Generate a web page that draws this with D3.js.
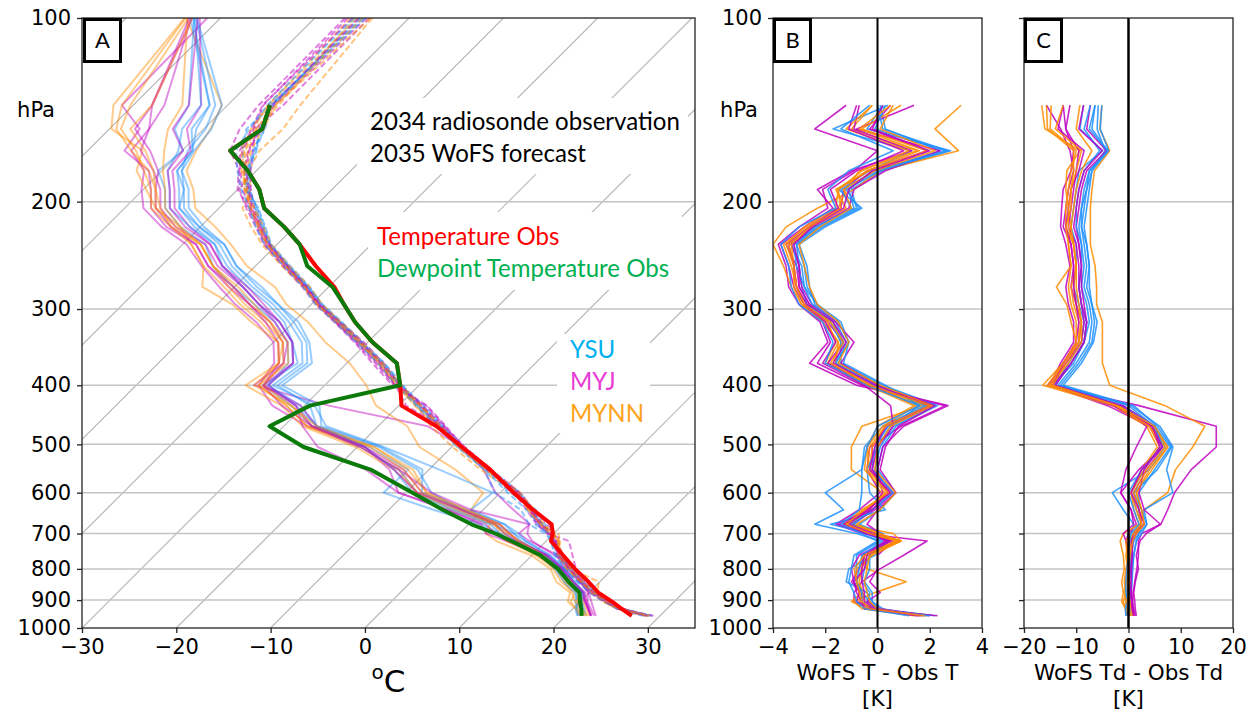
<!DOCTYPE html>
<html>
<head>
<meta charset="utf-8">
<script src="https://cdn.jsdelivr.net/npm/d3@7"></script>
<style>
  body { margin: 0; background: #fff; }
  svg { display: block; }
  .axis text { font-family: "DejaVu Sans", sans-serif; font-size: 21px; fill: #000; }
  .axis line { stroke: #222; stroke-width: 1.3; }
  .axis path { display: none; }
</style>
</head>
<body>
<svg id="chart" width="1257" height="717"></svg>
<script>
// ---- pressure levels (hPa) of the sounding profiles ----
const levels = [139, 152, 165, 178, 191, 205, 220, 235, 255, 276, 295, 315, 340, 368, 400,
                432, 467, 505, 550, 600, 640, 676, 700, 720, 760, 800, 840, 875, 905, 930, 955];

// ---- radiosonde observation (°C) ----
const obsT  = [-65.5, -63.8, -64.9, -60.9, -57.7, -55.2, -51.1, -47.6, -43.6, -39.4, -36.5, -33.5, -29.5, -24.7, -22.0,
               -19.7, -13.8, -8.9, -3.5, 1.4, 5.3, 8.8, 9.9, 10.5, 13.3, 16.0, 18.8, 21.0, 23.4, 25.2, 27.0];
const obsTd = [-65.5, -63.8, -64.9, -60.9, -57.7, -55.2, -51.1, -47.6, -44.5, -39.6, -36.5, -33.5, -29.5, -24.7, -22.0,
               -29.4, -31.5, -25.7, -16.2, -9.3, -4.3, 0.3, 3.8, 6.3, 10.9, 14.2, 16.7, 19.0, 20.0, 20.9, 21.7];

// ---- ensemble members: PBL scheme of each member ----
const schemes = ["YSU", "MYJ", "MYNN"];
const memberScheme = [0, 1, 2, 0, 1, 2, 0, 1, 2, 0, 1, 2, 0, 1, 2, 0, 1, 2];

// ---- forecast minus observed temperature (K), one row per member ----
const dT = [
  [0.2, -0.4, 2.8, 0.2, -1.0, -0.8, -2.2, -3.3, -2.9, -2.8, -2.3, -1.4, -1.1, -1.6, 0.1, 2.2, 0.6, 0.1, -0.1, 0.5, -0.2, -0.9, 0.0, 0.4, -0.3, -0.5, -0.6, -0.3, -0.4, 0.0, 2.2],
  [-1.2, -2.4, 0.0, -0.9, -2.1, -1.9, -3.0, -3.8, -3.5, -3.4, -3.0, -2.2, -1.9, -2.6, -0.8, 2.6, 0.9, -0.3, -0.4, 0.1, -0.7, -1.6, -0.6, 1.9, 1.0, 0.1, -0.6, -0.9, -0.9, -0.4, 2.3],
  [3.2, 2.2, 3.1, 0.1, -0.9, -2.3, -3.5, -4.0, -3.6, -3.3, -2.9, -2.0, -1.5, -1.9, -0.5, 1.7, -0.6, -1.0, -1.0, 0.2, -0.3, -1.2, -0.4, 0.8, -0.6, -0.4, 1.1, -0.1, -0.9, -0.6, 1.4],
  [0.4, -1.7, 1.3, -0.3, -1.5, -0.6, -2.0, -3.0, -2.7, -2.6, -2.4, -1.6, -1.2, -1.5, 0.0, 1.8, 0.2, -0.5, -0.6, -2.0, -1.3, -2.4, -0.8, 0.1, -0.8, -0.8, -0.9, -0.6, -0.3, -0.1, 1.9],
  [0.5, -0.3, 1.9, -0.4, -1.3, -1.4, -2.6, -3.5, -3.1, -3.0, -2.6, -1.9, -1.3, -1.9, -0.3, 2.1, 0.4, -0.2, -0.2, 0.6, -0.1, -1.0, -0.1, 0.5, -0.5, -0.7, -1.0, -0.6, -0.6, -0.3, 1.6],
  [-0.2, -1.0, 1.5, -0.7, -1.2, -1.5, -2.7, -3.6, -3.3, -3.1, -2.7, -1.7, -1.4, -1.7, -0.2, 1.5, 0.2, -0.4, -0.3, 0.4, -0.5, -1.2, 0.6, 0.9, -0.4, -0.6, -0.8, -0.5, -0.7, -0.2, 1.8],
  [0.1, 0.3, 2.4, 0.0, -1.4, -1.0, -2.3, -3.1, -3.0, -2.9, -2.7, -1.8, -1.4, -1.4, 0.2, 2.3, 0.7, 0.2, 0.0, 0.7, 0.1, -0.7, 0.2, 0.3, -0.3, -0.3, -0.5, -0.2, -0.2, 0.2, 1.5],
  [1.4, -0.8, 2.4, 0.3, -0.9, -1.1, -2.4, -3.3, -3.0, -2.9, -2.5, -1.6, -0.9, -1.4, 0.0, 2.2, 0.8, 0.3, 0.1, 0.7, 0.0, -0.4, 0.1, 0.6, 0.0, 0.0, -0.3, 0.1, -0.4, 0.1, 2.0],
  [0.9, -0.6, 1.9, -0.3, -1.6, -1.2, -2.5, -3.3, -3.2, -3.1, -2.8, -1.9, -1.6, -2.0, -0.4, 1.9, 0.3, -0.2, -0.3, 0.5, -0.6, -1.3, -0.3, 0.9, -0.5, -0.6, -0.7, -0.6, -0.5, -0.2, 1.7],
  [0.3, -0.1, 2.6, 0.1, -1.2, -0.7, -2.1, -3.1, -2.8, -2.7, -2.3, -1.5, -1.1, -1.3, 0.3, 1.6, 0.5, 0.0, -0.4, -0.3, 0.3, -1.8, -0.3, 0.4, -0.1, -1.1, -1.2, -0.4, -0.2, 0.0, 1.8],
  [-0.7, -0.9, 1.3, -1.0, -2.3, -1.7, -2.8, -3.7, -3.4, -3.2, -2.8, -2.1, -1.8, -2.3, -0.6, 2.7, 1.0, 0.2, 0.0, 0.2, -0.3, -1.5, -0.5, 0.4, -0.7, -1.0, -0.9, -0.8, -0.6, -0.5, 1.6],
  [-0.2, -1.2, 1.2, -0.6, -1.5, -1.6, -2.8, -3.5, -3.2, -3.2, -2.9, -2.1, -1.5, -1.6, -0.4, 1.4, 0.0, -0.4, -0.5, 0.3, -0.4, -1.0, 0.0, 0.9, -0.2, -0.8, -0.8, -0.6, -1.0, -0.4, 1.9],
  [0.0, 0.2, 2.7, -0.2, -1.1, -0.9, -2.4, -3.2, -3.1, -2.8, -2.5, -1.7, -1.3, -1.6, -0.1, 1.9, 0.4, -0.1, -0.2, 0.6, -0.2, -1.0, -0.4, 0.2, -0.6, -0.7, -0.8, -0.6, -0.6, -0.3, 2.0],
  [-0.8, -1.1, 1.0, -0.8, -1.8, -1.5, -2.6, -3.4, -3.2, -3.1, -2.7, -2.0, -1.6, -2.1, -0.5, 0.5, 0.6, 0.0, -0.2, 0.4, -0.2, -1.3, -0.4, 0.5, -0.4, -0.5, -0.9, -0.7, -0.8, -0.2, 1.5],
  [0.6, 0.1, 2.2, -0.1, -1.3, -1.0, -2.2, -3.0, -2.8, -2.6, -2.3, -1.5, -1.1, -1.5, 0.1, 2.1, 0.5, 0.0, -0.1, 0.7, 0.1, -0.8, 0.1, 0.8, -0.3, -0.4, -0.5, -0.4, -0.3, 0.0, 1.6],
  [-0.3, -1.4, 0.6, -1.1, -1.9, -1.6, -3.0, -3.7, -3.4, -3.3, -3.0, -2.1, -1.7, -2.0, -0.4, 1.6, 0.0, -0.4, -0.6, -0.6, -0.7, -1.4, -0.6, 0.0, -0.9, -1.0, -1.1, -0.9, -0.8, -0.5, 1.2],
  [0.2, -0.2, 2.0, -0.2, -1.1, -1.3, -2.5, -3.2, -3.0, -3.0, -2.6, -1.7, -1.2, -1.7, -0.1, 2.0, 0.3, -0.1, -0.3, 0.5, -0.4, -1.1, -0.2, 0.3, -0.5, -0.6, -0.6, -0.5, -0.5, -0.1, 1.7],
  [0.5, -0.7, 1.6, -0.4, -1.5, -1.4, -2.6, -3.4, -3.2, -3.1, -2.8, -1.8, -1.3, -1.8, -0.3, 2.0, 0.3, -0.3, -0.4, 0.4, -0.5, -1.2, -0.3, 0.7, -0.5, -0.9, -0.8, -0.7, -0.6, -0.3, 1.8]
];

// ---- forecast minus observed dewpoint (K), one row per member ----
const dTd = [
  [-6.4, -7.0, -4.0, -7.5, -8.5, -9.0, -9.5, -9.0, -8.5, -9.0, -8.0, -7.5, -8.5, -10.5, -14.5, -2.0, 4.5, 6.0, 3.0, 0.5, 1.5, 2.5, 1.0, 0.5, 0.6, 0.4, 0.2, 0.3, 0.0, -0.5, -0.4],
  [-15.7, -13.0, -11.2, -10.5, -11.5, -12.0, -12.5, -11.0, -10.5, -11.0, -10.0, -9.0, -9.5, -12.0, -15.5, 2.0, 16.8, 16.8, 12.0, 8.8, 7.5, 6.2, 2.5, 1.9, 1.9, 1.6, 1.2, 0.9, 0.8, 1.0, 1.3],
  [-5.1, -5.5, -3.6, -6.5, -7.0, -7.3, -7.3, -7.3, -6.4, -6.1, -6.1, -5.0, -5.0, -5.0, -3.6, 7.0, 14.6, 12.3, 9.0, 7.5, 3.0, 2.2, 1.5, 0.8, 0.5, 0.2, -0.3, -0.2, -0.3, 0.2, 0.6],
  [-8.6, -9.3, -5.0, -9.5, -10.0, -10.5, -11.0, -10.0, -10.0, -10.5, -9.5, -8.5, -9.0, -11.5, -14.0, -1.0, 5.0, 7.0, 4.0, -3.1, -1.0, 1.0, 0.5, 0.0, 0.2, 0.5, 0.0, -0.3, -0.5, -0.4, -0.3],
  [-12.5, -12.0, -10.5, -11.0, -12.5, -12.8, -13.0, -12.0, -11.2, -12.0, -11.5, -10.5, -10.5, -13.0, -15.0, -4.0, 4.0, 6.5, 2.0, -1.5, 0.5, 1.5, 0.0, -0.5, 0.0, 0.3, 0.5, 0.4, 0.5, 0.7, 1.0],
  [-16.6, -16.0, -9.3, -11.8, -12.0, -11.5, -11.0, -11.5, -11.0, -13.8, -11.8, -11.0, -10.0, -12.5, -16.4, -3.0, 3.5, 5.5, 2.5, 0.5, 1.0, 2.0, -1.0, -1.6, -1.0, -0.8, -1.3, -1.0, -1.3, -0.6, -0.2],
  [-5.8, -6.0, -4.5, -7.0, -8.0, -8.5, -9.0, -8.5, -8.0, -8.5, -7.5, -7.0, -7.5, -10.0, -13.5, 0.5, 6.0, 8.5, 7.3, 8.5, 3.0, 3.5, 2.0, 1.5, 1.0, 0.8, 0.7, 0.5, 0.3, 0.1, 0.0],
  [-7.3, -8.0, -4.2, -8.0, -9.0, -9.5, -10.0, -9.5, -9.0, -9.0, -8.5, -8.0, -8.5, -11.0, -14.5, -1.5, 3.5, 1.5, -0.5, -1.5, 0.5, 1.0, -1.0, -0.5, 0.5, 0.3, 0.0, 0.2, 0.5, 0.8, 0.9],
  [-14.8, -15.0, -10.0, -11.0, -11.5, -12.0, -12.0, -10.5, -10.0, -11.0, -10.5, -9.5, -9.5, -12.5, -15.5, -2.0, 4.5, 7.5, 4.5, 1.5, 2.5, 3.0, 1.5, 0.5, 0.0, -0.5, -0.8, -0.5, -1.0, -0.5, 0.0],
  [-6.4, -7.5, -4.0, -7.5, -8.0, -9.0, -9.0, -8.0, -7.5, -8.0, -7.0, -6.5, -7.0, -9.5, -13.0, 0.0, 5.0, 8.0, 5.0, 2.0, 2.0, 2.5, 2.0, 1.0, 0.5, 0.5, 0.3, 0.0, 0.2, 0.3, 0.4],
  [-11.2, -12.0, -9.5, -10.0, -10.5, -11.0, -11.5, -10.0, -9.5, -9.5, -9.0, -8.5, -9.0, -12.0, -14.5, -1.0, 5.0, 6.5, 3.5, 1.0, 2.0, 2.5, 1.0, 0.5, 0.8, 0.5, 0.5, 0.6, 0.7, 0.8, 1.0],
  [-9.3, -10.0, -7.0, -9.0, -10.0, -10.5, -11.0, -10.5, -10.0, -10.5, -10.0, -9.0, -9.0, -11.5, -15.0, -2.5, 4.0, 6.0, 3.0, 0.5, 1.5, 2.5, 1.0, 0.0, -0.5, -0.2, -0.5, -0.8, -0.5, -0.2, 0.3],
  [-5.1, -5.4, -3.8, -7.0, -7.5, -8.0, -8.5, -8.0, -7.5, -7.5, -7.0, -6.0, -6.7, -9.0, -12.5, 1.0, 5.5, 8.3, 5.5, 1.0, 2.5, 3.5, 2.5, 1.5, 1.0, 0.7, 0.5, 0.3, 0.2, 0.0, -0.2],
  [-12.5, -13.5, -8.5, -9.5, -11.0, -11.5, -12.0, -11.0, -10.5, -10.5, -10.0, -9.5, -10.0, -12.5, -14.5, -3.0, 4.5, 6.0, 3.0, 2.0, 3.0, 6.1, 3.4, 2.2, 1.5, 1.9, 1.3, 1.0, 1.2, 1.3, 1.5],
  [-15.7, -15.5, -10.5, -10.5, -11.0, -11.0, -12.0, -11.5, -11.0, -11.5, -11.0, -10.0, -10.0, -12.5, -15.0, -2.5, 4.0, 7.0, 3.5, 1.0, 2.0, 2.5, 0.5, -0.5, -0.3, 0.0, 0.3, 0.0, 0.3, 0.5, 0.8],
  [-7.3, -8.5, -5.5, -8.5, -9.5, -10.0, -10.0, -9.0, -9.0, -9.5, -9.0, -8.0, -8.5, -11.0, -14.0, -1.5, 5.0, 6.5, 2.5, 0.0, 1.0, 2.0, 0.5, 0.2, 0.0, -0.3, -0.5, -0.5, -0.2, -0.6, -0.5],
  [-8.6, -9.5, -5.0, -8.5, -9.5, -10.0, -10.5, -9.5, -9.0, -9.5, -9.0, -8.0, -8.5, -11.0, -14.0, -1.5, 4.5, 6.5, 2.5, 0.5, 2.0, 3.0, 1.5, 0.8, 0.7, 0.6, 0.5, 0.4, 0.6, 0.7, 1.0],
  [-12.5, -14.0, -9.0, -10.0, -11.0, -11.5, -11.5, -10.5, -10.0, -10.0, -9.5, -9.0, -9.5, -12.0, -14.5, -2.0, 5.0, 7.5, 4.0, 1.5, 2.5, 3.0, 1.5, 0.8, 0.3, 0.0, -0.2, 0.0, -0.3, 0.0, 0.5]
];

// ---- member values at the 100 hPa model top (°C) ----
const topLevel = 100;
const memberT100  = [-65.2, -66.8, -63.9, -65.6, -64.5, -66.2, -65.0, -64.2, -65.8, -64.8, -66.5, -65.4, -64.6, -66.0, -64.1, -65.9, -65.3, -64.9];
const memberTd100 = [-83.2, -81.4, -83.6, -82.8, -83.0, -83.8, -82.6, -82.2, -83.4, -82.9, -83.1, -83.5, -82.5, -83.3, -83.7, -82.7, -82.4, -83.0];

// ---- axis ticks ----
const pressureTicks = [100, 200, 300, 400, 500, 600, 700, 800, 900, 1000];
const gridPressures = [200, 300, 400, 500, 600, 700, 800, 900];
const tempTicks = [-30, -20, -10, 0, 10, 20, 30];
const dTTicks = [-4, -2, 0, 2, 4];
const dTdTicks = [-20, -10, 0, 10, 20];

// ---- styling ----
const lineColor = { YSU: "#1e90ff", MYJ: "#bf00bf", MYNN: "#ff8c00" };
const labelColor = { YSU: "#00b0f0", MYJ: "#e83cd4", MYNN: "#ffa31a" };
const annFont = "Lato, 'Open Sans', sans-serif";

const svg = d3.select("#chart");
const yTop = 18, yBot = 628;
const y = d3.scaleLog().domain([100, 1000]).range([yTop, yBot]);
const xA = d3.scaleLinear().domain([-30, 35]).range([82, 695]);
const xB = d3.scaleLinear().domain([-4, 4]).range([773, 982]);
const xC = d3.scaleLinear().domain([-20, 20]).range([1024, 1233]);

// skewed temperature axis: isotherms rise 45° to the right
const skewX = (t, p) => xA(t) + (yBot - y(p));

const defs = svg.append("defs");
function clip(id, x0, x1) {
  defs.append("clipPath").attr("id", id).append("rect")
    .attr("x", x0).attr("y", yTop).attr("width", x1 - x0).attr("height", yBot - yTop);
  return `url(#${id})`;
}
const clipA = clip("clipA", 82, 695);
const clipB = clip("clipB", 773, 982);
const clipC = clip("clipC", 1024, 1233);

function fitText(sel, targetWidth) {
  const size = parseFloat(sel.attr("font-size"));
  const w = sel.node().getComputedTextLength();
  sel.attr("font-size", (size * targetWidth / w).toFixed(2));
}

// ================= panel A: skew-T =================
const gA = svg.append("g");
const gAin = gA.append("g").attr("clip-path", clipA);

// isotherms
d3.range(-120, 40, 10).forEach(t => {
  gAin.append("line")
    .attr("x1", xA(t)).attr("y1", yBot)
    .attr("x2", xA(t) + (yBot - yTop)).attr("y2", yTop)
    .attr("stroke", "#b8b8b8").attr("stroke-width", 1.2);
});
// pressure grid
gridPressures.forEach(p => {
  gAin.append("line").attr("x1", 82).attr("x2", 695).attr("y1", y(p)).attr("y2", y(p))
    .attr("stroke", "#c4c4c4").attr("stroke-width", 1.5);
});

// white boxes under the annotations
[[357, 98, 331, 76], [368, 212, 314, 78], [557, 334, 93, 99]].forEach(([bx, by, bw, bh]) => {
  gAin.append("rect").attr("x", bx).attr("y", by).attr("width", bw).attr("height", bh).attr("fill", "#fff");
});

const lineA = d3.line().x(d => skewX(d.t, d.p)).y(d => y(d.p));

// member dewpoints (solid) and temperatures (dashed)
const memberIdx = d3.range(dT.length);
memberIdx.forEach(m => {
  const pts = [{ p: topLevel, t: memberTd100[m] }].concat(levels.map((p, i) => ({ p, t: obsTd[i] + dTd[m][i] })));
  gAin.append("path").attr("d", lineA(pts)).attr("fill", "none")
    .attr("stroke", lineColor[schemes[memberScheme[m]]]).attr("stroke-opacity", 0.45)
    .attr("stroke-width", 2).attr("stroke-linejoin", "round");
});
memberIdx.forEach(m => {
  const pts = [{ p: topLevel, t: memberT100[m] }].concat(levels.map((p, i) => ({ p, t: obsT[i] + dT[m][i] })));
  gAin.append("path").attr("d", lineA(pts)).attr("fill", "none")
    .attr("stroke", lineColor[schemes[memberScheme[m]]]).attr("stroke-opacity", 0.5)
    .attr("stroke-width", 2).attr("stroke-dasharray", "6,3");
});

// observed sounding
gAin.append("path").attr("d", lineA(levels.map((p, i) => ({ p, t: obsT[i] }))))
  .attr("fill", "none").attr("stroke", "#ff0000").attr("stroke-width", 4).attr("stroke-linejoin", "round");
gAin.append("path").attr("d", lineA(levels.map((p, i) => ({ p, t: obsTd[i] }))))
  .attr("fill", "none").attr("stroke", "#0a7a0a").attr("stroke-width", 4).attr("stroke-linejoin", "round");

// annotations
const ann = [
  ["2034 radiosonde observation", 370, 130, "#000"],
  ["2035 WoFS forecast", 370, 162, "#000"],
  ["Temperature Obs", 377, 245, "#ff0000"],
  ["Dewpoint Temperature Obs", 377, 277, "#00b050"]
];
const annSize = 24;
ann.forEach(([txt, tx, ty, col]) => {
  gA.append("text").attr("x", tx).attr("y", ty).attr("fill", col)
    .attr("font-family", annFont).attr("font-size", annSize).text(txt);
});
const first = gA.selectAll("text").filter((d, i) => i === 0);
fitText(first, 310);
const fitted = first.attr("font-size");
gA.selectAll("text").attr("font-size", fitted);

schemes.forEach((s, i) => {
  gA.append("text").attr("x", 570).attr("y", 358 + i * 32).attr("fill", labelColor[s])
    .attr("font-family", annFont).attr("font-size", fitted).text(s);
});

// frame
gA.append("rect").attr("x", 82).attr("y", yTop).attr("width", 695 - 82).attr("height", yBot - yTop)
  .attr("fill", "none").attr("stroke", "#222").attr("stroke-width", 1.3);

gA.append("g").attr("class", "axis").attr("transform", "translate(82,0)")
  .call(d3.axisLeft(y).tickValues(pressureTicks).tickFormat(d3.format("d")).tickSize(5).tickPadding(6));
gA.append("g").attr("class", "axis").attr("transform", `translate(0,${yBot})`)
  .call(d3.axisBottom(xA).tickValues(tempTicks).tickSize(5).tickPadding(6));

gA.append("text").attr("x", 55).attr("y", 117).attr("text-anchor", "end")
  .attr("font-family", "DejaVu Sans, sans-serif").attr("font-size", 21).text("hPa");

const degLabel = gA.append("text").attr("x", 388.5).attr("y", 692).attr("text-anchor", "middle")
  .attr("font-family", "DejaVu Sans, sans-serif").attr("font-size", 31);
degLabel.append("tspan").attr("font-size", 20).attr("dy", -13).text("o");
degLabel.append("tspan").attr("dy", 13).text("C");

// ================= panels B and C: profile differences =================
function diffPanel(x, clipUrl, rows, ticks, showLabels, zeroWidth, title) {
  const g = svg.append("g");
  const inner = g.append("g").attr("clip-path", clipUrl);
  const [x0, x1] = x.range();
  gridPressures.forEach(p => {
    inner.append("line").attr("x1", x0).attr("x2", x1).attr("y1", y(p)).attr("y2", y(p))
      .attr("stroke", "#c4c4c4").attr("stroke-width", 1.5);
  });
  const line = d3.line().x(d => x(d.v)).y(d => y(d.p));
  rows.forEach((row, m) => {
    inner.append("path").attr("d", line(levels.map((p, i) => ({ p, v: row[i] }))))
      .attr("fill", "none").attr("stroke", lineColor[schemes[memberScheme[m]]])
      .attr("stroke-opacity", 0.85).attr("stroke-width", 1.6).attr("stroke-linejoin", "round");
  });
  inner.append("line").attr("x1", x(0)).attr("x2", x(0)).attr("y1", yTop).attr("y2", yBot)
    .attr("stroke", "#000").attr("stroke-width", zeroWidth);
  g.append("rect").attr("x", x0).attr("y", yTop).attr("width", x1 - x0).attr("height", yBot - yTop)
    .attr("fill", "none").attr("stroke", "#222").attr("stroke-width", 1.3);
  g.append("g").attr("class", "axis").attr("transform", `translate(${x0},0)`)
    .call(d3.axisLeft(y).tickValues(pressureTicks)
      .tickFormat(showLabels ? d3.format("d") : () => "").tickSize(5).tickPadding(6));
  g.append("g").attr("class", "axis").attr("transform", `translate(0,${yBot})`)
    .call(d3.axisBottom(x).tickValues(ticks).tickSize(5).tickPadding(6));
  const cx = (x0 + x1) / 2;
  g.append("text").attr("x", cx).attr("y", 680).attr("text-anchor", "middle")
    .attr("font-family", "DejaVu Sans, sans-serif").attr("font-size", 21.5).text(title);
  g.append("text").attr("x", cx).attr("y", 706).attr("text-anchor", "middle")
    .attr("font-family", "DejaVu Sans, sans-serif").attr("font-size", 21.5).text("[K]");
  return g;
}
const gB = diffPanel(xB, clipB, dT, dTTicks, true, 2, "WoFS T - Obs T");
gB.append("text").attr("x", 758).attr("y", 117).attr("text-anchor", "end")
  .attr("font-family", "DejaVu Sans, sans-serif").attr("font-size", 21).text("hPa");
diffPanel(xC, clipC, dTd, dTdTicks, false, 2.5, "WoFS Td - Obs Td");

// ================= panel letters =================
[["A", 83], ["B", 773], ["C", 1024]].forEach(([letter, bx]) => {
  svg.append("rect").attr("x", bx + 1.5).attr("y", yTop + 1.5).attr("width", 36).attr("height", 42)
    .attr("fill", "#fff").attr("stroke", "#000").attr("stroke-width", 3);
  svg.append("text").attr("x", bx + 19.5).attr("y", yTop + 30).attr("text-anchor", "middle")
    .attr("font-family", annFont).attr("font-size", 22).text(letter);
});
</script>
</body>
</html>
